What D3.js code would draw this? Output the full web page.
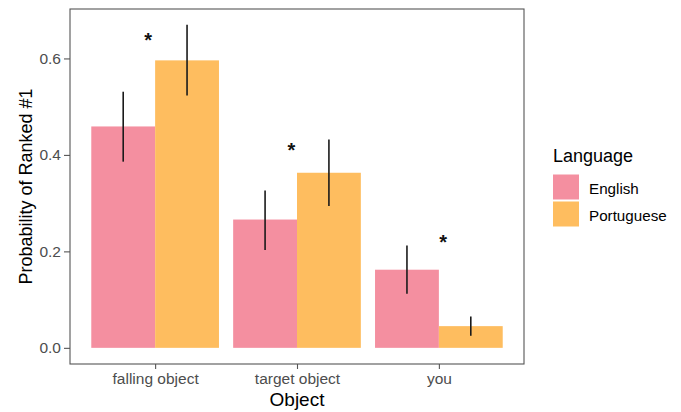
<!DOCTYPE html>
<html>
<head>
<meta charset="utf-8">
<script src="https://cdn.jsdelivr.net/npm/d3@7"></script>
<style>
  html, body { margin: 0; padding: 0; background: #fff; }
  svg { display: block; font-family: "Liberation Sans", Arial, sans-serif; }
</style>
</head>
<body>
<svg id="chart" width="681" height="412"></svg>
<script>
// Categories and groups
const categories = ["falling object", "target object", "you"];
const languages = ["English", "Portuguese"];

// Probability of being ranked #1, with interval bounds
const englishMean = [0.459, 0.266, 0.162];
const englishLow = [0.386, 0.203, 0.112];
const englishHigh = [0.531, 0.326, 0.212];
const portugueseMean = [0.596, 0.363, 0.045];
const portugueseLow = [0.523, 0.294, 0.025];
const portugueseHigh = [0.670, 0.432, 0.065];

// Significance markers: position along the category axis (1-based) and height
const starCategoryPos = [0.95, 1.96, 3.03];
const starValue = [0.645, 0.417, 0.2255];

const yTicks = [0.0, 0.2, 0.4, 0.6];

const colors = { English: "#F48FA0", Portuguese: "#FEBD5F" };

const rows = [];
categories.forEach((c, i) => {
  rows.push({ cat: c, lang: "English", mean: englishMean[i], lo: englishLow[i], hi: englishHigh[i] });
  rows.push({ cat: c, lang: "Portuguese", mean: portugueseMean[i], lo: portugueseLow[i], hi: portugueseHigh[i] });
});

const svg = d3.select("#chart");
const panel = { left: 70, right: 524, top: 9, bottom: 364 };

// Continuous category axis with discrete padding (0.6 units each side)
const xc = d3.scaleLinear().domain([0.4, categories.length + 0.6]).range([panel.left, panel.right]);
const y = d3.scaleLinear().domain([-0.0335, 0.7025]).range([panel.bottom, panel.top]);

const bandW = 0.9;
const barW = bandW / languages.length;

const g = svg.append("g");

// Bars
g.selectAll("rect.bar").data(rows).enter().append("rect")
  .attr("class", "bar")
  .attr("x", d => xc(categories.indexOf(d.cat) + 1 - bandW / 2 + languages.indexOf(d.lang) * barW))
  .attr("width", d => xc(barW) - xc(0))
  .attr("y", d => y(d.mean))
  .attr("height", d => y(0) - y(d.mean))
  .attr("fill", d => colors[d.lang]);

// Error bars
const barCentre = d => xc(categories.indexOf(d.cat) + 1 - bandW / 2 + (languages.indexOf(d.lang) + 0.5) * barW);
g.selectAll("line.err").data(rows).enter().append("line")
  .attr("class", "err")
  .attr("x1", barCentre)
  .attr("x2", barCentre)
  .attr("y1", d => y(d.lo))
  .attr("y2", d => y(d.hi))
  .attr("stroke", "#1a1a1a")
  .attr("stroke-width", 1.6);

// Significance stars
const starSize = 20;
g.selectAll("text.star").data(starValue).enter().append("text")
  .attr("class", "star")
  .attr("x", (v, i) => xc(starCategoryPos[i]))
  .attr("y", v => y(v) + starSize * 0.52)
  .attr("text-anchor", "middle")
  .attr("font-size", starSize)
  .attr("font-weight", "bold")
  .attr("fill", "#111")
  .text("*");

// Panel border
svg.append("rect")
  .attr("x", panel.left).attr("y", panel.top)
  .attr("width", panel.right - panel.left).attr("height", panel.bottom - panel.top)
  .attr("fill", "none").attr("stroke", "#555").attr("stroke-width", 1.1);

// Y axis
const yAxis = d3.axisLeft(y).tickValues(yTicks).tickFormat(d3.format(".1f")).tickSize(6).tickPadding(3);
const ya = svg.append("g").attr("transform", `translate(${panel.left},0)`).call(yAxis);
ya.select(".domain").remove();
ya.selectAll(".tick line").attr("stroke", "#555").attr("stroke-width", 1.1);
ya.selectAll(".tick text").attr("fill", "#4d4d4d").attr("font-size", 15.5)
  .attr("font-family", "Liberation Sans, Arial, sans-serif");

// X axis
const xAxis = d3.axisBottom(xc).tickValues(categories.map((c, i) => i + 1))
  .tickFormat((d) => categories[d - 1]).tickSize(5).tickPadding(4);
const xa = svg.append("g").attr("transform", `translate(0,${panel.bottom})`).call(xAxis);
xa.select(".domain").remove();
xa.selectAll(".tick line").attr("stroke", "#555").attr("stroke-width", 1.1);
xa.selectAll(".tick text").attr("fill", "#4d4d4d").attr("font-size", 15.5)
  .attr("font-family", "Liberation Sans, Arial, sans-serif");

// Axis titles
svg.append("text")
  .attr("x", (panel.left + panel.right) / 2).attr("y", 406)
  .attr("text-anchor", "middle").attr("font-size", 19).attr("fill", "#000")
  .text("Object");
svg.append("text")
  .attr("transform", `translate(32,${(panel.top + panel.bottom) / 2}) rotate(-90)`)
  .attr("text-anchor", "middle").attr("font-size", 18).attr("fill", "#000")
  .text("Probability of Ranked #1");

// Legend
const legend = svg.append("g").attr("transform", "translate(553,0)");
legend.append("text").attr("x", 0).attr("y", 162).attr("font-size", 18).attr("fill", "#000").text("Language");
languages.forEach((l, i) => {
  legend.append("rect").attr("x", 0).attr("y", 174.5 + i * 27).attr("width", 26).attr("height", 25)
    .attr("fill", colors[l]);
  legend.append("text").attr("x", 36).attr("y", 193.5 + i * 27).attr("font-size", 15.2).attr("fill", "#000").text(l);
});
</script>
</body>
</html>
